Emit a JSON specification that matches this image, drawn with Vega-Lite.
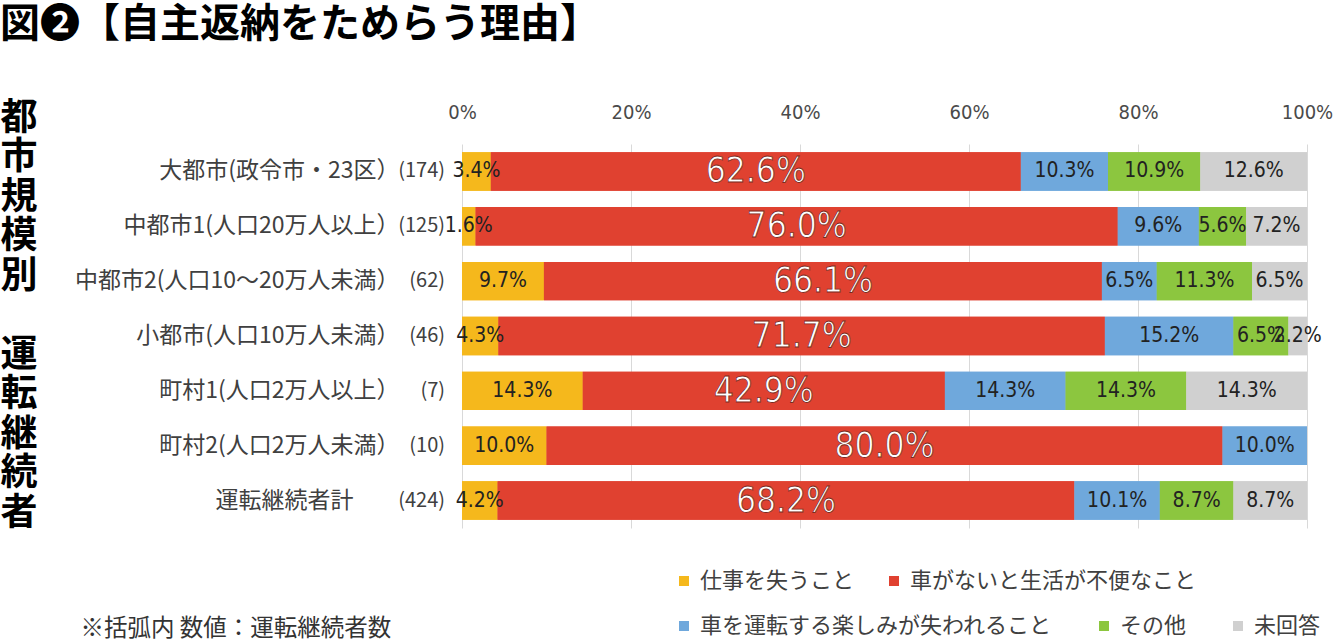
{
  "$schema": "https://vega.github.io/schema/vega-lite/v6.json",
  "width": 845,
  "height": 384,
  "autosize": {"type": "none"},
  "padding": {"left": 462, "top": 144, "right": 30, "bottom": 113},
  "background": "white",
  "config": {"view": {"stroke": null}, "font": "Noto Sans CJK JP"},
  "title": {
    "text": "図❷【自主返納をためらう理由】",
    "anchor": "start",
    "offset": 54,
    "fontSize": 40,
    "fontWeight": "bold",
    "color": "#000000",
    "font": "Noto Sans CJK JP"
  },
  "data": {
    "values": [
      {"region": "大都市(政令市・23区）", "n": "(174)", "cat": "仕事を失うこと", "k": 1, "v": 3.4},
      {"region": "大都市(政令市・23区）", "n": "(174)", "cat": "車がないと生活が不便なこと", "k": 2, "v": 62.6},
      {"region": "大都市(政令市・23区）", "n": "(174)", "cat": "車を運転する楽しみが失われること", "k": 3, "v": 10.3},
      {"region": "大都市(政令市・23区）", "n": "(174)", "cat": "その他", "k": 4, "v": 10.9},
      {"region": "大都市(政令市・23区）", "n": "(174)", "cat": "未回答", "k": 5, "v": 12.6},
      {"region": "中都市1(人口20万人以上）", "n": "(125)", "cat": "仕事を失うこと", "k": 1, "v": 1.6},
      {"region": "中都市1(人口20万人以上）", "n": "(125)", "cat": "車がないと生活が不便なこと", "k": 2, "v": 76.0},
      {"region": "中都市1(人口20万人以上）", "n": "(125)", "cat": "車を運転する楽しみが失われること", "k": 3, "v": 9.6},
      {"region": "中都市1(人口20万人以上）", "n": "(125)", "cat": "その他", "k": 4, "v": 5.6},
      {"region": "中都市1(人口20万人以上）", "n": "(125)", "cat": "未回答", "k": 5, "v": 7.2},
      {"region": "中都市2(人口10～20万人未満）", "n": "(62)", "cat": "仕事を失うこと", "k": 1, "v": 9.7},
      {"region": "中都市2(人口10～20万人未満）", "n": "(62)", "cat": "車がないと生活が不便なこと", "k": 2, "v": 66.1},
      {"region": "中都市2(人口10～20万人未満）", "n": "(62)", "cat": "車を運転する楽しみが失われること", "k": 3, "v": 6.5},
      {"region": "中都市2(人口10～20万人未満）", "n": "(62)", "cat": "その他", "k": 4, "v": 11.3},
      {"region": "中都市2(人口10～20万人未満）", "n": "(62)", "cat": "未回答", "k": 5, "v": 6.5},
      {"region": "小都市(人口10万人未満）", "n": "(46)", "cat": "仕事を失うこと", "k": 1, "v": 4.3},
      {"region": "小都市(人口10万人未満）", "n": "(46)", "cat": "車がないと生活が不便なこと", "k": 2, "v": 71.7},
      {"region": "小都市(人口10万人未満）", "n": "(46)", "cat": "車を運転する楽しみが失われること", "k": 3, "v": 15.2},
      {"region": "小都市(人口10万人未満）", "n": "(46)", "cat": "その他", "k": 4, "v": 6.5},
      {"region": "小都市(人口10万人未満）", "n": "(46)", "cat": "未回答", "k": 5, "v": 2.2},
      {"region": "町村1(人口2万人以上）", "n": "(7)", "cat": "仕事を失うこと", "k": 1, "v": 14.3},
      {"region": "町村1(人口2万人以上）", "n": "(7)", "cat": "車がないと生活が不便なこと", "k": 2, "v": 42.9},
      {"region": "町村1(人口2万人以上）", "n": "(7)", "cat": "車を運転する楽しみが失われること", "k": 3, "v": 14.3},
      {"region": "町村1(人口2万人以上）", "n": "(7)", "cat": "その他", "k": 4, "v": 14.3},
      {"region": "町村1(人口2万人以上）", "n": "(7)", "cat": "未回答", "k": 5, "v": 14.3},
      {"region": "町村2(人口2万人未満）", "n": "(10)", "cat": "仕事を失うこと", "k": 1, "v": 10.0},
      {"region": "町村2(人口2万人未満）", "n": "(10)", "cat": "車がないと生活が不便なこと", "k": 2, "v": 80.0},
      {"region": "町村2(人口2万人未満）", "n": "(10)", "cat": "車を運転する楽しみが失われること", "k": 3, "v": 10.0},
      {"region": "運転継続者計　　\u200b", "n": "(424)", "cat": "仕事を失うこと", "k": 1, "v": 4.2},
      {"region": "運転継続者計　　\u200b", "n": "(424)", "cat": "車がないと生活が不便なこと", "k": 2, "v": 68.2},
      {"region": "運転継続者計　　\u200b", "n": "(424)", "cat": "車を運転する楽しみが失われること", "k": 3, "v": 10.1},
      {"region": "運転継続者計　　\u200b", "n": "(424)", "cat": "その他", "k": 4, "v": 8.7},
      {"region": "運転継続者計　　\u200b", "n": "(424)", "cat": "未回答", "k": 5, "v": 8.7}
    ]
  },
  "transform": [
    {"stack": "v", "groupby": ["region"], "sort": [{"field": "k", "order": "ascending"}], "offset": "normalize", "as": ["v0", "v1"]},
    {"calculate": "(datum.v0 + datum.v1) / 2", "as": "mid"},
    {"calculate": "format(datum.v, '.1f') + '%'", "as": "lbl"}
  ],
  "layer": [
    {
      "mark": {"type": "bar", "strokeWidth": 0},
      "encoding": {
        "y": {
          "field": "region", "type": "nominal", "sort": null,
          "scale": {"paddingInner": 0.3, "paddingOuter": 0.15},
          "axis": {
            "title": ["都", "市", "規", "模", "別", "\u200b", "運", "転", "継", "続", "者"],
            "titleAngle": 0, "titleAlign": "left", "titleBaseline": "top",
            "titleX": -462, "titleY": -44,
            "titleFontSize": 37, "titleLineHeight": 39.5, "titleFontWeight": "bold",
            "titleColor": "#000000", "titleFont": "Noto Sans CJK JP",
            "labelFontSize": 23, "labelColor": "#404040", "labelPadding": 63,
            "labelFont": "Noto Sans CJK JP", "labelLimit": 500,
            "ticks": false, "domain": false, "grid": false
          }
        },
        "x": {
          "field": "v0", "type": "quantitative",
          "scale": {"domain": [0, 1], "nice": false},
          "axis": {
            "orient": "top", "title": null, "values": [0, 0.2, 0.4, 0.6, 0.8, 1],
            "format": ".0%", "labelFontSize": 20, "labelColor": "#4a4a4a",
            "labelFont": "DejaVu Sans Condensed, Liberation Sans", "labelPadding": 22, "labelFlush": false,
            "ticks": false, "domain": false, "grid": true,
            "gridColor": "#d9d9d9", "gridWidth": 1
          }
        },
        "x2": {"field": "v1"},
        "color": {
          "field": "cat", "type": "nominal",
          "scale": {
            "domain": ["仕事を失うこと", "車がないと生活が不便なこと", "車を運転する楽しみが失われること", "その他", "未回答"],
            "range": ["#F5B81C", "#E04130", "#6FA8DC", "#8CC63F", "#D0D0D0"]
          },
          "legend": {
            "title": null, "values": ["仕事を失うこと", "車がないと生活が不便なこと"],
            "orient": "none", "legendX": 211, "legendY": 426, "direction": "horizontal",
            "padding": 0, "symbolType": "square", "symbolSize": 100, "symbolStrokeWidth": 0,
            "labelFontSize": 22, "labelColor": "#404040", "labelFont": "Noto Sans CJK JP",
            "labelOffset": 5, "columnPadding": 28, "labelLimit": 500
          }
        }
      }
    },
    {
      "mark": {"type": "bar", "strokeWidth": 0},
      "encoding": {
        "y": {"field": "region", "type": "nominal", "sort": null},
        "x": {"field": "v0", "type": "quantitative", "axis": null},
        "x2": {"field": "v1"},
        "fill": {
          "field": "cat", "type": "nominal",
          "scale": {
            "domain": ["車を運転する楽しみが失われること", "その他", "未回答", "仕事を失うこと", "車がないと生活が不便なこと"],
            "range": ["#6FA8DC", "#8CC63F", "#D0D0D0", "#F5B81C", "#E04130"]
          },
          "legend": {
            "title": null, "values": ["車を運転する楽しみが失われること", "その他", "未回答"],
            "orient": "none", "legendX": 211, "legendY": 471, "direction": "horizontal",
            "padding": 0, "symbolType": "square", "symbolSize": 100, "symbolStrokeWidth": 0,
            "labelFontSize": 22, "labelColor": "#404040", "labelFont": "Noto Sans CJK JP",
            "labelOffset": 5, "columnPadding": 40, "labelLimit": 500
          }
        }
      }
    },
    {
      "transform": [{"filter": "datum.k != 2"}],
      "mark": {"type": "text", "fontSize": 21, "font": "DejaVu Sans Condensed, Liberation Sans", "color": "#222222", "align": "center", "baseline": "middle"},
      "encoding": {
        "y": {"field": "region", "type": "nominal", "sort": null},
        "x": {"field": "mid", "type": "quantitative", "axis": null},
        "text": {"field": "lbl"}
      }
    },
    {
      "transform": [{"filter": "datum.k == 2"}],
      "mark": {"type": "text", "fontSize": 35, "font": "DejaVu Sans Condensed, Liberation Sans", "color": "#ffffff", "stroke": "#7a2a20", "strokeWidth": 0.8, "align": "center", "baseline": "middle"},
      "encoding": {
        "y": {"field": "region", "type": "nominal", "sort": null},
        "x": {"field": "mid", "type": "quantitative", "axis": null},
        "text": {"field": "lbl"}
      }
    },
    {
      "transform": [{"filter": "datum.k == 1"}],
      "mark": {"type": "text", "fontSize": 20, "font": "Noto Sans CJK JP", "color": "#404040", "align": "right", "baseline": "middle", "dx": -17},
      "encoding": {
        "y": {"field": "region", "type": "nominal", "sort": null},
        "x": {
          "datum": 0, "type": "quantitative",
          "axis": {
            "orient": "bottom", "title": "※括弧内 数値：運転継続者数",
            "labels": false, "ticks": false, "domain": false, "grid": false,
            "titleX": -382, "titleY": 100, "titleAlign": "left", "titleBaseline": "middle",
            "titleFontSize": 23.5, "titleFontWeight": "normal", "titleColor": "#333333",
            "titleFont": "Noto Sans CJK JP"
          }
        },
        "text": {"field": "n"}
      }
    }
  ],
  "resolve": {"axis": {"x": "independent"}}
}
